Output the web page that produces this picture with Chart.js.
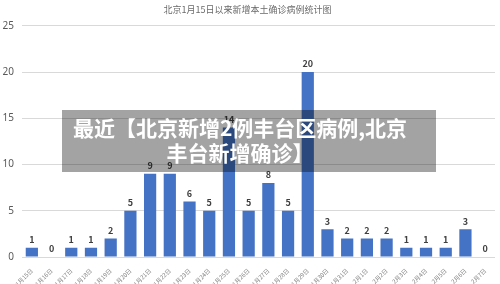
<!DOCTYPE html>
<html>
<head>
<meta charset="utf-8">
<script src="https://cdn.jsdelivr.net/npm/chart.js@4/dist/chart.umd.min.js"></script>
<style>
    html, body { margin: 0; padding: 0; background: #fff; }
    #wrap { position: relative; width: 500px; height: 284px; }
    #banner {
        position: absolute; left: 62px; top: 110px; width: 374px; height: 62px;
        background: rgba(0, 0, 0, 0.36);
        color: #fff; font-family: "Noto Sans CJK SC", sans-serif; font-weight: bold;
        font-size: 21px; line-height: 25px; text-align: center; white-space: nowrap;
        box-sizing: border-box; padding: 5px 18px 0 0;
    }
</style>
</head>
<body>
<div id="wrap">
    <canvas id="chart" width="500" height="284"></canvas>
    <div id="banner">最近【北京新增2例丰台区病例,北京<br>丰台新增确诊】</div>
</div>
<script>
const chartTitle = '北京1月15日以来新增本土确诊病例统计图';
const dates = [
    '1月15日', '1月16日', '1月17日', '1月18日', '1月19日', '1月20日',
    '1月21日', '1月22日', '1月23日', '1月24日', '1月25日', '1月26日',
    '1月27日', '1月28日', '1月29日', '1月30日', '1月31日', '2月1日',
    '2月2日', '2月3日', '2月4日', '2月5日', '2月6日', '2月7日'
];
const cases = [1, 0, 1, 1, 2, 5, 9, 9, 6, 5, 14, 5, 8, 5, 20, 3, 2, 2, 2, 1, 1, 1, 3, 0];
const yTicks = [0, 5, 10, 15, 20, 25];

// value labels above each bar
const barLabels = {
    id: 'barLabels',
    afterDatasetsDraw(chart) {
        let ctx = chart.ctx;
        let meta = chart.getDatasetMeta(0);
        ctx.save();
        ctx.font = 'bold 9px "Noto Sans CJK SC", sans-serif';
        ctx.fillStyle = '#404040';
        ctx.textAlign = 'center';
        ctx.textBaseline = 'middle';
        meta.data.forEach((bar, i) => {
            ctx.fillText(String(cases[i]), bar.x, bar.y - 8);
        });
        ctx.restore();
    }
};

let ctx = document.getElementById('chart').getContext('2d');
new Chart(ctx, {
    type: 'bar',
    data: {
        labels: dates,
        datasets: [{
            data: cases,
            backgroundColor: '#4472C4',
            categoryPercentage: 1.0,
            barPercentage: 0.62
        }]
    },
    options: {
        responsive: false,
        animation: false,
        layout: { padding: { left: 0, right: 5, top: 0, bottom: 0 } },
        plugins: {
            legend: { display: false },
            tooltip: { enabled: false },
            title: {
                display: true,
                text: chartTitle,
                color: '#6a6a6a',
                font: { size: 9, weight: 'normal', family: '"Noto Sans CJK SC", sans-serif' },
                padding: { top: 4, bottom: 11 }
            }
        },
        scales: {
            y: {
                min: 0,
                max: 25,
                afterBuildTicks(axis) { axis.ticks = yTicks.map(v => ({ value: v })); },
                afterFit(axis) { axis.width = 22; },
                grid: { color: '#d9d9d9', drawTicks: false },
                border: { display: false },
                ticks: {
                    color: '#595959',
                    padding: 8,
                    font: { size: 10, family: '"Noto Sans", sans-serif' }
                }
            },
            x: {
                afterFit(axis) { axis.height = 27; },
                grid: { display: false },
                border: { display: false },
                ticks: {
                    color: '#808080',
                    minRotation: 45,
                    maxRotation: 45,
                    autoSkip: false,
                    padding: 2,
                    font: { size: 6, family: '"Noto Sans CJK SC", sans-serif' }
                }
            }
        }
    },
    plugins: [barLabels]
});
</script>
</body>
</html>
